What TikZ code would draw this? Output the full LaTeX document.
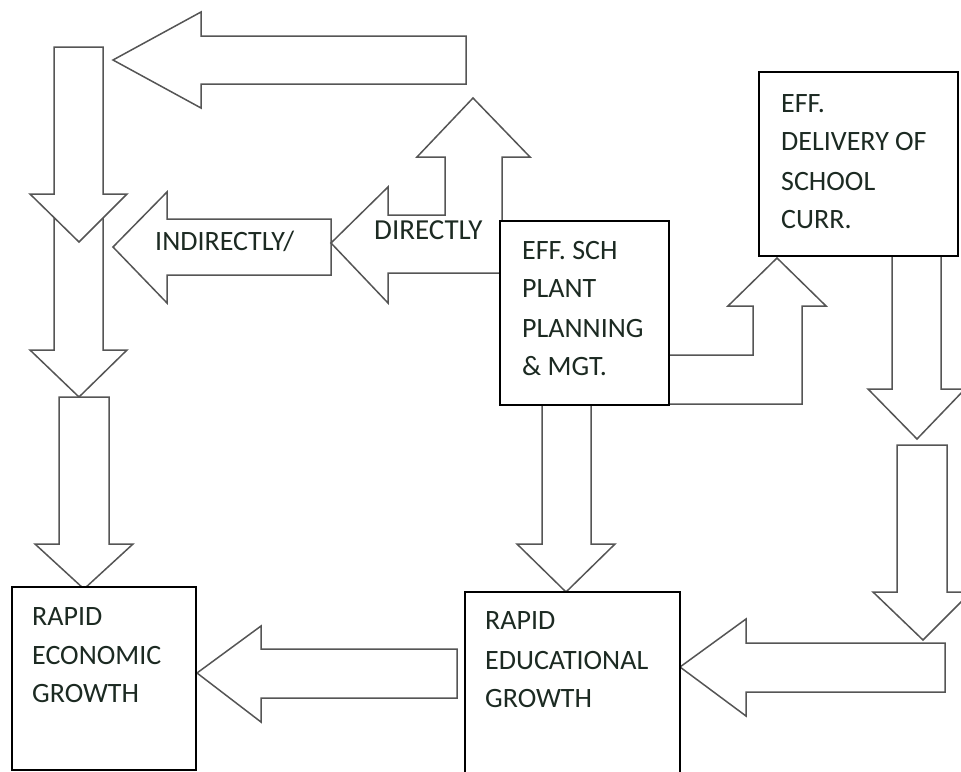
\documentclass[tikz,border=0pt]{standalone}
\usepackage{fontspec}
\setmainfont{Carlito}
\definecolor{txt}{RGB}{28,42,34}
\definecolor{arrowline}{RGB}{85,85,85}
\begin{document}
\begin{tikzpicture}[x=1pt,y=-1pt,
  blockarrow/.style={draw=arrowline,line width=1.5pt,fill=white,line join=miter},
  box/.style={draw=black,line width=1.6pt,fill=white,rectangle,inner sep=0pt},
  lbl/.style={anchor=base west,inner sep=0pt,text=txt,font=\fontsize{28}{39}\selectfont}]
\clip (0,0) rectangle (961,771);
\fill[white] (0,0) rectangle (961,771);
% left column arrows
\draw[blockarrow] (54,200) -- (103,200) -- (103,350) -- (127,350) -- (79,397) -- (30,350) -- (54,350) -- cycle;
\draw[blockarrow] (54,47) -- (103,47) -- (103,194) -- (127,194) -- (79,242) -- (30,194) -- (54,194) -- cycle;
\draw[blockarrow] (59,397) -- (109,397) -- (109,544) -- (133,544) -- (84,589) -- (35,544) -- (59,544) -- cycle;
% top arrow
\draw[blockarrow] (113,60) -- (201,12) -- (201,36) -- (466,36) -- (466,84) -- (201,84) -- (201,108) -- cycle;
% indirectly arrow
\draw[blockarrow] (113,247) -- (167,192) -- (167,219) -- (331,219) -- (331,275) -- (167,275) -- (167,303) -- cycle;
% directly bent arrow
\draw[blockarrow] (331,243) -- (388,187) -- (388,215) -- (445,215) -- (445,157) -- (417,157) -- (473,98) -- (530,157) -- (502,157) -- (502,273) -- (388,273) -- (388,303) -- cycle;
% bent arrow to delivery
\draw[blockarrow] (660,355) -- (753,355) -- (753,306) -- (728,306) -- (777,258) -- (826,306) -- (802,306) -- (802,404) -- (660,404) -- cycle;
% down arrow to educational
\draw[blockarrow] (542,400) -- (591,400) -- (591,544) -- (615,544) -- (566,592) -- (517,544) -- (542,544) -- cycle;
% right column arrows
\draw[blockarrow] (892,250) -- (941,250) -- (941,389) -- (965,389) -- (917,439) -- (868,389) -- (892,389) -- cycle;
\draw[blockarrow] (680,667) -- (746,619) -- (746,643) -- (945,643) -- (945,692) -- (746,692) -- (746,716) -- cycle;
\draw[blockarrow] (897,445) -- (947,445) -- (947,592) -- (971,592) -- (923,640) -- (873,592) -- (897,592) -- cycle;
% arrow to economic
\draw[blockarrow] (197,673) -- (261,626) -- (261,649) -- (457,649) -- (457,698) -- (261,698) -- (261,722) -- cycle;
% boxes
\node[box,minimum width=169pt,minimum height=184pt] (plant) at (584.5,313) {};
\node[box,minimum width=199pt,minimum height=184pt] (deliv) at (858.5,164) {};
\node[box,minimum width=184pt,minimum height=183pt] (econ) at (104,678.5) {};
\node[box,minimum width=215pt,minimum height=196pt] (educ) at (572.5,690) {};
% labels
\node[lbl] (tind) at (155,250) {INDIRECTLY/};
\node[lbl,font=\fontsize{29}{39}\selectfont] (tdir) at (374,239) {DIRECTLY};
\node[lbl] (p1) at (522,259) {EFF. SCH};
\node[lbl] (p2) at (522,297) {PLANT};
\node[lbl] (p3) at (522,337) {PLANNING};
\node[lbl] (p4) at (522,375) {\&\ MGT.};
\node[lbl] (d1) at (781,112) {EFF.};
\node[lbl] (d2) at (781,150) {DELIVERY OF};
\node[lbl] (d3) at (781,190) {SCHOOL};
\node[lbl] (d4) at (781,228) {CURR.};
\node[lbl] (e1) at (32,625) {RAPID};
\node[lbl] (e2) at (32,664) {ECONOMIC};
\node[lbl] (e3) at (32,702) {GROWTH};
\node[lbl] (u1) at (485,629) {RAPID};
\node[lbl] (u2) at (485,669) {EDUCATIONAL};
\node[lbl] (u3) at (485,707) {GROWTH};
\end{tikzpicture}
\end{document}
